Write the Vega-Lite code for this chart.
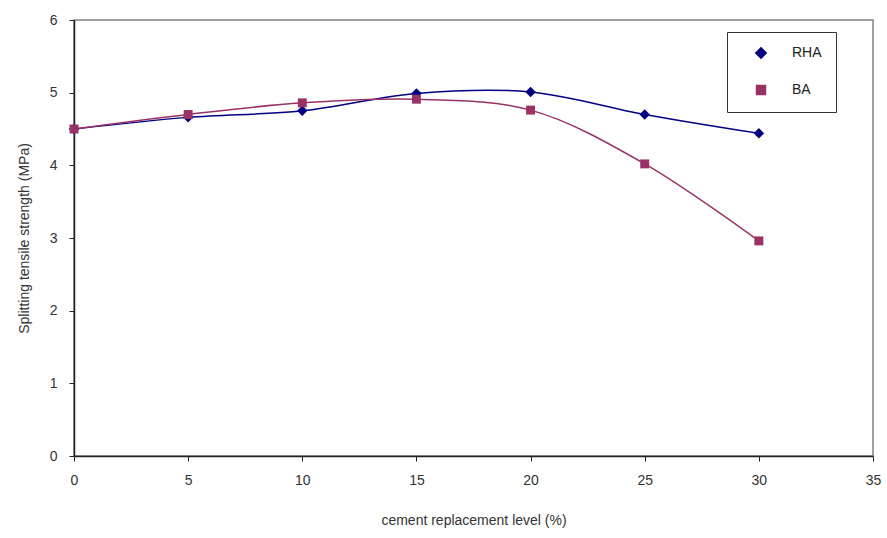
{
  "$schema": "https://vega.github.io/schema/vega-lite/v6.json",
  "width": 799,
  "height": 436,
  "autosize": {"type": "none"},
  "padding": {"left": 74, "top": 20, "right": 14, "bottom": 82},
  "background": "white",
  "config": {
    "font": "Liberation Sans",
    "view": {"stroke": "#808080", "strokeWidth": 1.5},
    "axis": {
      "labelFont": "Liberation Sans",
      "titleFont": "Liberation Sans",
      "labelFontSize": 14,
      "titleFontSize": 14,
      "titleFontWeight": "normal",
      "labelColor": "#333333",
      "titleColor": "#333333",
      "domainColor": "#222222",
      "domainWidth": 1.5,
      "tickColor": "#222222",
      "tickSize": 5,
      "grid": false
    }
  },
  "data": {
    "values": [
      {"level": 0, "strength": 4.5, "series": "RHA"},
      {"level": 5, "strength": 4.66, "series": "RHA"},
      {"level": 10, "strength": 4.75, "series": "RHA"},
      {"level": 15, "strength": 4.99, "series": "RHA"},
      {"level": 20, "strength": 5.01, "series": "RHA"},
      {"level": 25, "strength": 4.7, "series": "RHA"},
      {"level": 30, "strength": 4.44, "series": "RHA"},
      {"level": 0, "strength": 4.5, "series": "BA"},
      {"level": 5, "strength": 4.7, "series": "BA"},
      {"level": 10, "strength": 4.86, "series": "BA"},
      {"level": 15, "strength": 4.91, "series": "BA"},
      {"level": 20, "strength": 4.76, "series": "BA"},
      {"level": 25, "strength": 4.02, "series": "BA"},
      {"level": 30, "strength": 2.96, "series": "BA"}
    ]
  },
  "encoding": {
    "x": {
      "field": "level",
      "type": "quantitative",
      "scale": {"domain": [0, 35], "nice": false, "zero": false},
      "axis": {"values": [0, 5, 10, 15, 20, 25, 30, 35], "title": "cement replacement level (%)", "labelPadding": 12, "titlePadding": 26, "labelFlush": false}
    },
    "y": {
      "field": "strength",
      "type": "quantitative",
      "scale": {"domain": [0, 6], "nice": false},
      "axis": {"values": [0, 1, 2, 3, 4, 5, 6], "title": "Splitting tensile strength (MPa)", "labelPadding": 12, "titlePadding": 18}
    },
    "color": {
      "field": "series",
      "type": "nominal",
      "scale": {"domain": ["RHA", "BA"], "range": ["#000080", "#993366"]},
      "legend": {
        "title": null,
        "orient": "none",
        "legendX": 653,
        "legendY": 12,
        "padding": 14,
        "strokeColor": "#333333",
        "fillColor": "white",
        "symbolSize": 90,
        "symbolOpacity": 1,
        "symbolOffset": 13,
        "labelOffset": 24,
        "rowPadding": 20,
        "labelFontSize": 14,
        "labelFont": "Liberation Sans",
        "labelColor": "#222222"
      }
    }
  },
  "layer": [
    {
      "mark": {"type": "line", "interpolate": "catmull-rom", "strokeWidth": 1.5}
    },
    {
      "mark": {"type": "point", "filled": true, "opacity": 1},
      "encoding": {
        "shape": {
          "field": "series",
          "type": "nominal",
          "scale": {"domain": ["RHA", "BA"], "range": ["diamond", "square"]},
          "legend": null
        },
        "size": {
          "field": "series",
          "type": "nominal",
          "scale": {"domain": ["RHA", "BA"], "range": [110, 80]},
          "legend": null
        }
      }
    }
  ]
}
